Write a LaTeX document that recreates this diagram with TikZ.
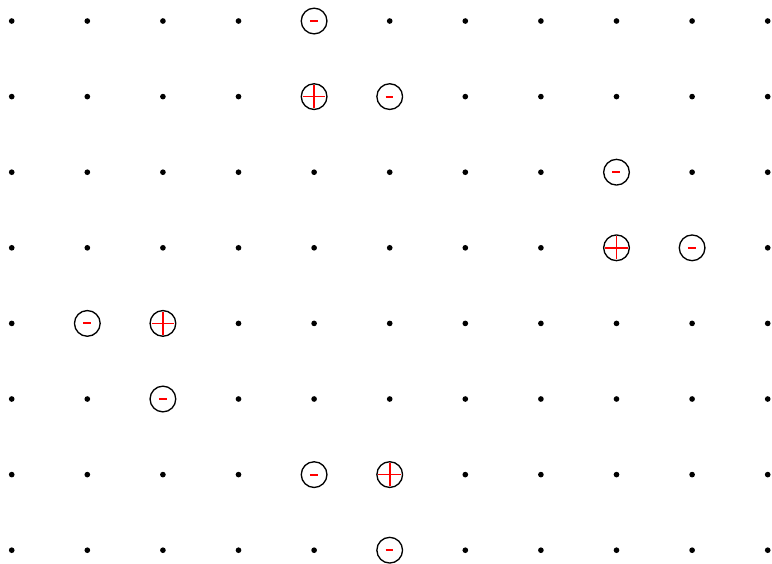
\documentclass[tikz,border=0pt]{standalone}
\begin{document}
\begin{tikzpicture}[
  gdot/.style={circle,fill=black,inner sep=0pt,minimum size=0.075cm},
  charge/.style={circle,draw=black,fill=white,line width=0.5pt,inner sep=0pt,minimum size=0.34cm},
  plusline/.style={red,line width=0.6pt},
  minusline/.style={red,line width=0.8pt}
]
\useasboundingbox (-0.155,-7.172) rectangle (10.057,0.278);
\foreach \i in {0,...,10}{
  \foreach \j in {0,...,7}{
    \node[gdot] (d-\i-\j) at (\i,-\j) {};
  }
}
% negative charges
\foreach \i/\j in {4/0,5/1,8/2,9/3,1/4,2/5,4/6,5/7}{
  \node[charge] (c-\i-\j) at (\i,-\j) {};
  \draw[minusline] ([xshift=-0.055cm]c-\i-\j.center) -- ([xshift=0.05cm]c-\i-\j.center);
}
% positive charges
\foreach \i/\j in {4/1,8/3,2/4,5/6}{
  \node[charge] (c-\i-\j) at (\i,-\j) {};
  \draw[plusline] ([xshift=-0.15cm]c-\i-\j.center) -- ([xshift=0.15cm]c-\i-\j.center);
  \draw[plusline] ([yshift=-0.15cm]c-\i-\j.center) -- ([yshift=0.15cm]c-\i-\j.center);
}
\end{tikzpicture}
\end{document}
